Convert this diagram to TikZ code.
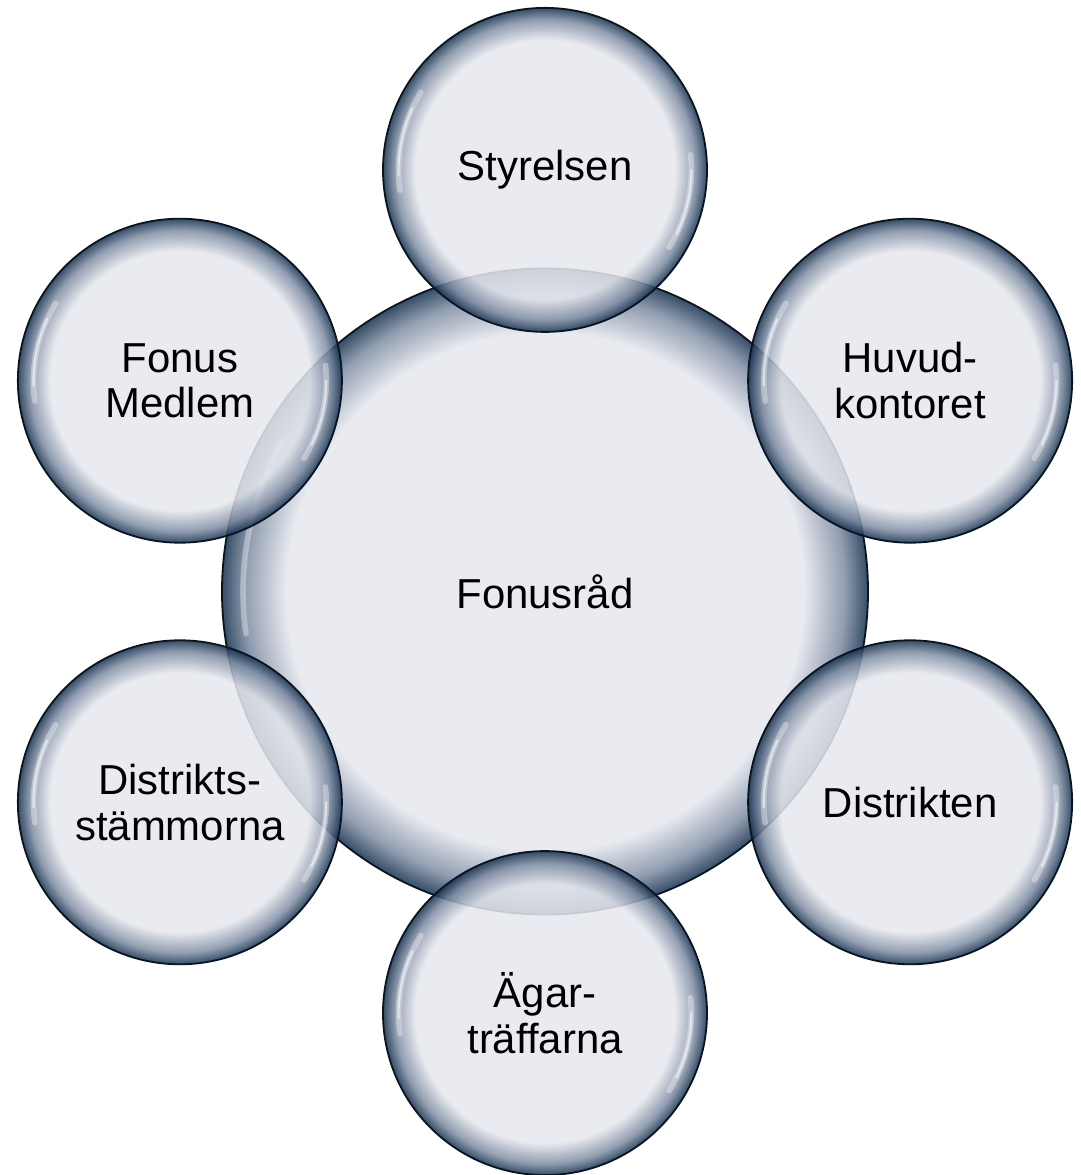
\documentclass[tikz,border=0pt]{standalone}
\usepackage{fontspec}
\setmainfont{Liberation Sans}
\usetikzlibrary{positioning}

\definecolor{bubLight}{HTML}{E6E8EE}
\definecolor{bubMid}{HTML}{7F8DA3}
\definecolor{bubDark}{HTML}{15304E}
\definecolor{bubEdge}{HTML}{0A1522}
\pgfdeclareradialshading{bubble}{\pgfpoint{0bp}{0bp}}{color(0bp)=(bubLight); color(20bp)=(bubLight); color(23.2bp)=(bubMid); color(25bp)=(bubDark); color(50bp)=(bubDark)}

\tikzset{
  orb/.style={circle, draw=bubEdge, line width=1.3pt, shade, shading=bubble,
    fill opacity=0.86, text opacity=1, inner sep=0pt, align=center,
    font=\fontsize{29.8}{32.5}\selectfont},
  hub/.style={orb, minimum size=16.15cm},
  sat/.style={orb, minimum size=8.1cm},
  glint/.style={white, line width=4pt, draw opacity=0.35, line cap=round},
  glintcore/.style={white, line width=1.5pt, draw opacity=0.55, line cap=round}
}

\begin{document}
\begin{tikzpicture}
\useasboundingbox (0,0) rectangle (27.025,29.375);
% centre
\node[hub] (rad) at (13.625,14.5875) {Fonusråd};
\draw[glint] (rad) ++(150:7.55) arc[start angle=150, end angle=188, radius=7.55];
% satellites
\path (rad) ++(90:10.54) node[sat] (sty) {Styrelsen};
\path (rad) ++(30:10.54) node[sat] (huv) {Huvud-\\kontoret};
\path (rad) ++(-30:10.54) node[sat] (dis) {Distrikten};
\path (rad) ++(-90:10.54) node[sat] (aga) {Ägar-\\träffarna};
\path (rad) ++(210:10.54) node[sat] (dst) {Distrikts-\\stämmorna};
\path (rad) ++(150:10.54) node[sat] (med) {Fonus\\Medlem};
% highlights
\foreach \n in {sty,huv,dis,aga,dst,med}{
  \draw[glint] (\n) ++(148:3.66) arc[start angle=148, end angle=188, radius=3.66];
  \draw[glintcore] (\n) ++(155:3.66) arc[start angle=155, end angle=182, radius=3.66];
  \draw[glint] (\n) ++(6:3.66) arc[start angle=6, end angle=-32, radius=3.66];
  \draw[glintcore] (\n) ++(0:3.66) arc[start angle=0, end angle=-26, radius=3.66];
}
\end{tikzpicture}
\end{document}
